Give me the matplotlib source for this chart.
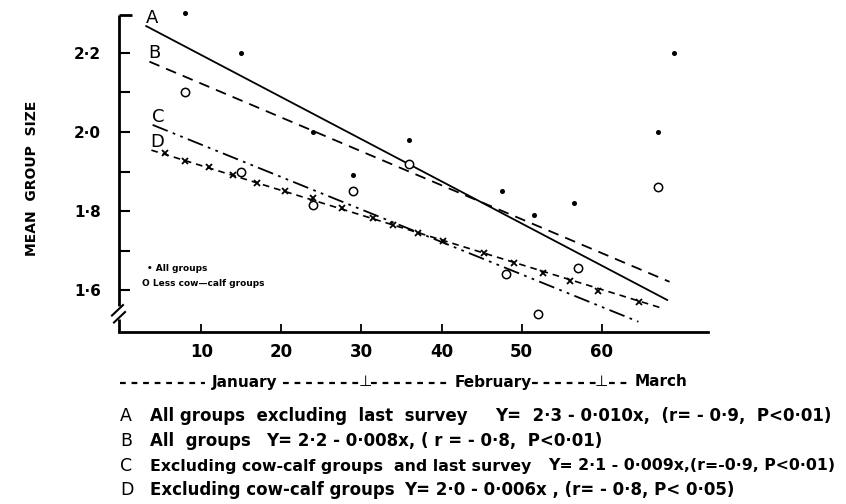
import numpy as np
import matplotlib.pyplot as plt
from matplotlib.lines import Line2D
from matplotlib.ticker import FixedLocator, FixedFormatter

# survey day (from 1 January) and mean group size
days_all = [8, 15, 24, 29, 36, 47.5, 51.5, 56.5, 67, 69]
size_all = [2.30, 2.20, 2.00, 1.89, 1.98, 1.85, 1.79, 1.82, 2.00, 2.20]

days_less = [8, 15, 24, 29, 36, 48, 52, 57, 67]
size_less = [2.10, 1.90, 1.815, 1.85, 1.92, 1.64, 1.54, 1.655, 1.86]

# fitted lines, as drawn (start / end)
line_names = ['A', 'B', 'C', 'D']
line_x = [(3.1, 68.2), (3.5, 68.5), (3.9, 64.6), (3.75, 67.6)]
line_y = [(2.268, 1.575), (2.178, 1.621), (2.018, 1.520), (1.954, 1.554)]

# cross marks drawn along line D
d_mark_x = [5.5, 8, 11, 14, 17, 20.4, 24, 27.6, 31.4, 34, 37, 40.2, 45.3, 49.1, 52.7, 56, 59.6, 64.7]
d_mark_y = [1.947, 1.927, 1.911, 1.891, 1.871, 1.851, 1.833, 1.808, 1.782, 1.765,
            1.744, 1.724, 1.694, 1.668, 1.643, 1.623, 1.597, 1.570]

xticks = [10, 20, 30, 40, 50, 60]
yticks = [1.6, 1.8, 2.0, 2.2]
ytick_labels = ['1·6', '1·8', '2·0', '2·2']
yminor = [1.7, 1.9, 2.1]

descriptions = [
    'All groups  excluding  last  survey',
    'All  groups',
    'Excluding cow-calf groups  and last survey',
    'Excluding cow-calf groups',
]
equations = [
    'Y=  2·3 - 0·010x,  (r= - 0·9,  P<0·01)',
    'Y= 2·2 - 0·008x, ( r = - 0·8,  P<0·01)',
    'Y= 2·1 - 0·009x,(r=-0·9, P<0·01)',
    'Y= 2·0 - 0·006x , (r= - 0·8, P< 0·05)',
]
row_size = [12, 12, 11.3, 12]
eq_x = [495, 266, 548, 404]

months = ['January', 'February', 'March']
month_x = [212, 455, 635]
month_dashes = [(120, 205), (283, 360), (371, 450), (532, 596), (609, 629)]
month_marks = [365, 601]

W, H = 846, 504
fig = plt.figure(figsize=(W / 100, H / 100), dpi=100)
ax = fig.add_axes([119 / W, 1 - 332 / H, 589 / W, 317 / H])

styles = {
    'A': dict(ls='-', lw=1.3),
    'B': dict(ls=(0, (6, 4)), lw=1.3),
    'C': dict(ls=(0, (9, 3, 1.5, 3, 1.5, 3)), lw=1.3),
    'D': dict(ls=(0, (4, 3)), lw=1.2),
}
for name, xs, ys in zip(line_names, line_x, line_y):
    ax.plot(xs, ys, color='black', **styles[name])
    ax.text(xs[0] - 0.1, ys[0] + 0.008, name, fontsize=13, ha='left', va='baseline')

ax.plot(d_mark_x, d_mark_y, ls='none', marker='x', ms=4, mew=1.3, color='black')
ax.plot(days_all, size_all, ls='none', marker='o', ms=2.6, color='black', clip_on=False)
ax.plot(days_less, size_less, ls='none', marker='o', ms=6, mfc='white',
        mec='black', mew=1.1, clip_on=False)

ax.set_xlim(-0.3, 73.3)
ax.set_ylim(1.494, 2.296)

ax.xaxis.set_major_locator(FixedLocator(xticks))
ax.set_xticklabels([str(t) for t in xticks], fontsize=12, fontweight='bold')
ax.yaxis.set_major_locator(FixedLocator(yticks))
ax.yaxis.set_major_formatter(FixedFormatter(ytick_labels))
ax.yaxis.set_minor_locator(FixedLocator(yminor))
for lab in ax.get_yticklabels():
    lab.set_fontsize(11)
    lab.set_fontweight('bold')
ax.tick_params(axis='x', direction='in', length=6, width=1.3, pad=8)
ax.tick_params(axis='y', which='both', direction='in', length=8, width=1.5, pad=13)

for s in ['top', 'right', 'left']:
    ax.spines[s].set_visible(False)
ax.spines['bottom'].set_linewidth(2)

# left axis drawn by hand with a break near the bottom
kw = dict(transform=ax.transAxes, clip_on=False, color='black', lw=2, solid_capstyle='butt')
ax.plot([0, 0], [0.082, 1.0], **kw)
ax.plot([0, 0], [0.0, 0.040], **kw)
ax.plot([0, 13 / 589], [1.0, 1.0], **kw)
ax.plot([-7 / 589, 4 / 589], [0.052, 0.085], color='black', lw=1.5,
        transform=ax.transAxes, clip_on=False)
ax.plot([-5 / 589, 6 / 589], [0.030, 0.063], color='black', lw=1.5,
        transform=ax.transAxes, clip_on=False)

# key inside the plot
ax.text(3.2, 1.655, '• All groups', fontsize=6.5, fontweight='bold', va='center')
ax.text(2.6, 1.616, 'O Less cow—calf groups', fontsize=6.5, fontweight='bold', va='center')

fig.text(32 / W, 1 - 178 / H, 'MEAN  GROUP  SIZE', rotation=90, fontsize=10,
         fontweight='bold', ha='center', va='center')

# month row under the day axis
my = 1 - 382 / H
mkw = dict(fontsize=11, fontweight='bold', va='center')
for m, px in zip(months, month_x):
    fig.text(px / W, my, m, **mkw)
for x0, x1 in month_dashes:
    fig.add_artist(Line2D([x0 / W, x1 / W], [1 - 383 / H, 1 - 383 / H], color='black',
                          lw=1.6, ls=(0, (2.6, 2.6)), transform=fig.transFigure))
for px in month_marks:
    fig.text(px / W, my, '⊥', fontsize=11, ha='center', va='center')

rows_y = [416, 441, 466, 490]
for name, desc, eq, ex, fs, py in zip(line_names, descriptions, equations, eq_x,
                                      row_size, rows_y):
    fig.text(120 / W, 1 - py / H, name, fontsize=12.5, va='center')
    fig.text(150 / W, 1 - py / H, desc, fontsize=fs, fontweight='bold', va='center')
    fig.text(ex / W, 1 - py / H, eq, fontsize=fs, fontweight='bold', va='center')

fig.savefig('out.png', dpi=100)
